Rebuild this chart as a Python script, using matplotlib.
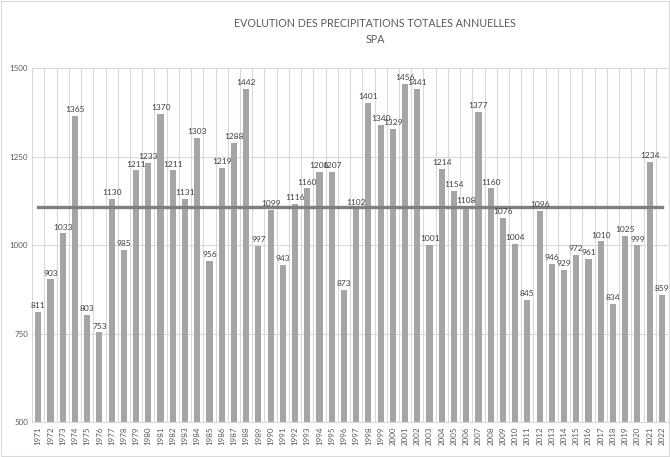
import numpy as np
import matplotlib
matplotlib.use("Agg")
import matplotlib.pyplot as plt

# Annual precipitation totals (mm) at SPA
years = list(range(1971, 2023))
precip = [811, 903, 1033, 1365, 803, 753, 1130, 985, 1211, 1233,
          1370, 1211, 1131, 1303, 956, 1219, 1288, 1442, 997, 1099,
          943, 1116, 1160, 1206, 1207, 873, 1102, 1401, 1340, 1329,
          1456, 1441, 1001, 1214, 1154, 1108, 1377, 1160, 1076, 1004,
          845, 1096, 946, 929, 972, 961, 1010, 834, 1025, 999,
          1234, 859]
y_ticks = [500, 750, 1000, 1250, 1500]

mean_value = np.mean(precip)

plt.rcParams['font.family'] = ['Lato', 'DejaVu Sans']

fig = plt.figure(figsize=(6.7, 4.57), dpi=100)
ax = fig.add_axes([0.048, 0.0766, 0.949, 0.7745])

x = np.arange(len(years))
ax.bar(x, precip, width=0.5, color='#a5a5a5', zorder=2)
ax.plot([x[0], x[-1]], [mean_value, mean_value], color='#7f7f7f', linewidth=2.4, zorder=3)

for xi, v in zip(x, precip):
    ax.text(xi, v + 8, str(v), ha='center', va='bottom', fontsize=6, color='#404040', zorder=4)

ax.set_xlim(-0.5, len(years) - 0.5)
ax.set_ylim(500, 1500)
ax.set_yticks(y_ticks)
ax.set_yticklabels([str(t) for t in y_ticks], fontsize=5.8, color='#595959')
ax.set_xticks(x)
ax.set_xticklabels([str(y) for y in years], rotation=90, fontsize=5.8, color='#595959')
ax.set_xticks(np.arange(-0.5, len(years), 1), minor=True)

ax.grid(axis='y', which='major', color='#d9d9d9', linewidth=0.8, zorder=0)
ax.grid(axis='x', which='minor', color='#d9d9d9', linewidth=0.8, zorder=0)
ax.tick_params(axis='both', which='both', length=0, pad=3)
for s in ['top', 'right', 'left']:
    ax.spines[s].set_visible(False)
ax.spines['bottom'].set_color('#d9d9d9')

fig.text(0.56, 0.94, "EVOLUTION DES PRECIPITATIONS TOTALES ANNUELLES", ha='center',
         fontsize=7.7, color='#595959')
fig.text(0.56, 0.905, "SPA", ha='center', fontsize=7.7, color='#595959')

# light border around the chart
fig.patches.append(plt.Rectangle((0.002, 0.002), 0.996, 0.996, transform=fig.transFigure,
                                 fill=False, edgecolor='#d9d9d9', linewidth=0.8))

fig.savefig("out.png", dpi=100)
